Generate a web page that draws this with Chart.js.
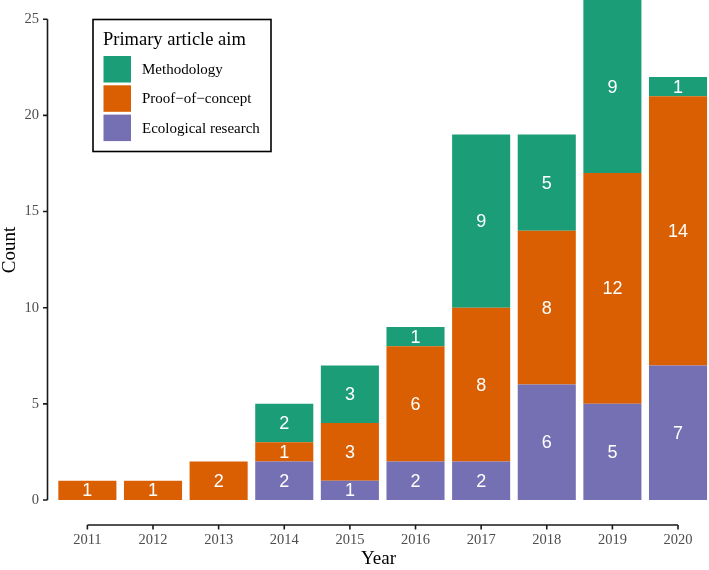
<!DOCTYPE html>
<html lang="en">
<head>
    <meta charset="UTF-8">
    <title>Primary article aim by year</title>
    <script src="https://cdn.jsdelivr.net/npm/chart.js"></script>
    <style>
        html, body { margin: 0; padding: 0; background: #fff; }
        #wrap { width: 709px; height: 570px; position: relative; }
    </style>
</head>
<body>
    <div id="wrap">
        <canvas id="aimChart"></canvas>
    </div>

    <script>
        // values
        const years = [2011, 2012, 2013, 2014, 2015, 2016, 2017, 2018, 2019, 2020];
        const ecological = [0, 0, 0, 2, 1, 2, 2, 6, 5, 7];
        const proofOfConcept = [1, 1, 2, 1, 3, 6, 8, 8, 12, 14];
        const methodology = [0, 0, 0, 2, 3, 1, 9, 5, 9, 1];
        const yTicks = [0, 5, 10, 15, 20, 25];

        const serif = "'Liberation Serif', 'Times New Roman', serif";
        const sans = "'Liberation Sans', Arial, sans-serif";

        const toPoints = vals => years.map((yr, i) => ({ x: yr, y: vals[i] }));

        // axis lines, value labels and the legend box
        const decorations = {
            id: 'decorations',
            afterDraw(chart) {
                const ctx = chart.ctx;
                const xs = chart.scales.x, ys = chart.scales.y;
                ctx.save();

                // capped y axis
                ctx.strokeStyle = '#1a1a1a';
                ctx.lineWidth = 1.6;
                const ax = chart.chartArea.left - 0.5;
                ctx.beginPath();
                ctx.moveTo(ax, ys.getPixelForValue(0));
                ctx.lineTo(ax, ys.getPixelForValue(yTicks[yTicks.length - 1]));
                yTicks.forEach(t => {
                    const py = ys.getPixelForValue(t);
                    ctx.moveTo(ax, py);
                    ctx.lineTo(ax - 4.5, py);
                });
                ctx.stroke();

                // capped x axis, set below the panel
                const ay = ys.getPixelForValue(0) + 25;
                ctx.beginPath();
                ctx.moveTo(xs.getPixelForValue(years[0]), ay);
                ctx.lineTo(xs.getPixelForValue(years[years.length - 1]), ay);
                years.forEach(yr => {
                    const px = xs.getPixelForValue(yr);
                    ctx.moveTo(px, ay);
                    ctx.lineTo(px, ay + 4.5);
                });
                ctx.stroke();

                // counts inside each segment
                ctx.fillStyle = '#ffffff';
                ctx.font = '18px ' + sans;
                ctx.textAlign = 'center';
                ctx.textBaseline = 'middle';
                chart.data.datasets.forEach((ds, di) => {
                    const meta = chart.getDatasetMeta(di);
                    meta.data.forEach((bar, i) => {
                        const v = ds.data[i].y;
                        if (!v) return;
                        ctx.fillText(String(v), bar.x, (bar.y + bar.base) / 2 + 1);
                    });
                });

                // legend
                ctx.strokeStyle = '#000000';
                ctx.lineWidth = 1.6;
                ctx.strokeRect(93, 19.5, 178, 132);
                ctx.fillStyle = '#000000';
                ctx.textAlign = 'left';
                ctx.font = '18.5px ' + serif;
                ctx.fillText('Primary article aim', 103, 40);
                ctx.font = '15px ' + serif;
                const order = [2, 1, 0];
                order.forEach((di, k) => {
                    const ds = chart.data.datasets[di];
                    const top = 56 + k * 29.3;
                    ctx.fillStyle = ds.backgroundColor;
                    ctx.fillRect(103.5, top, 27.5, 26.5);
                    ctx.fillStyle = '#000000';
                    ctx.fillText(ds.label, 142, top + 14);
                });
                ctx.restore();
            }
        };

        const ctx = document.getElementById('aimChart').getContext('2d');
        const aimChart = new Chart(ctx, {
            type: 'bar',
            data: {
                datasets: [
                    { label: 'Ecological research', data: toPoints(ecological), backgroundColor: '#7570b3' },
                    { label: 'Proof\u2212of\u2212concept', data: toPoints(proofOfConcept), backgroundColor: '#d95f02' },
                    { label: 'Methodology', data: toPoints(methodology), backgroundColor: '#1b9e77' }
                ]
            },
            options: {
                responsive: true,
                maintainAspectRatio: false,
                animation: false,
                layout: { padding: 0 },
                datasets: {
                    bar: { categoryPercentage: 1, barPercentage: 0.885, borderWidth: 0 }
                },
                plugins: {
                    legend: { display: false },
                    tooltip: { enabled: false }
                },
                scales: {
                    x: {
                        type: 'linear',
                        stacked: true,
                        offset: false,
                        min: 2010.4,
                        max: 2020.472,
                        grid: { display: false, drawTicks: false },
                        border: { display: false },
                        afterBuildTicks: s => { s.ticks = years.map(v => ({ value: v })); },
                        afterFit: s => {
                            s.height = 70;
                            s.paddingLeft = 0;
                            s.paddingRight = 0;
                        },
                        ticks: {
                            padding: 31,
                            color: '#4d4d4d',
                            font: { family: serif, size: 14.5 },
                            callback: v => String(v)
                        },
                        title: {
                            display: true,
                            text: 'Year',
                            color: '#000000',
                            font: { family: serif, size: 19 },
                            padding: { top: 0, bottom: 0 }
                        }
                    },
                    y: {
                        stacked: true,
                        min: 0,
                        max: 26,
                        grid: { display: false, drawTicks: false },
                        border: { display: false },
                        afterBuildTicks: s => { s.ticks = yTicks.map(v => ({ value: v })); },
                        afterFit: s => {
                            s.width = 48;
                            s.paddingTop = 0;
                            s.paddingBottom = 0;
                        },
                        ticks: {
                            padding: 9,
                            color: '#4d4d4d',
                            font: { family: serif, size: 14.5 }
                        },
                        title: {
                            display: true,
                            text: 'Count',
                            color: '#000000',
                            font: { family: serif, size: 19, lineHeight: 1 },
                            padding: { top: 0.5, bottom: 0 }
                        }
                    }
                }
            },
            plugins: [decorations]
        });
    </script>
</body>
</html>
